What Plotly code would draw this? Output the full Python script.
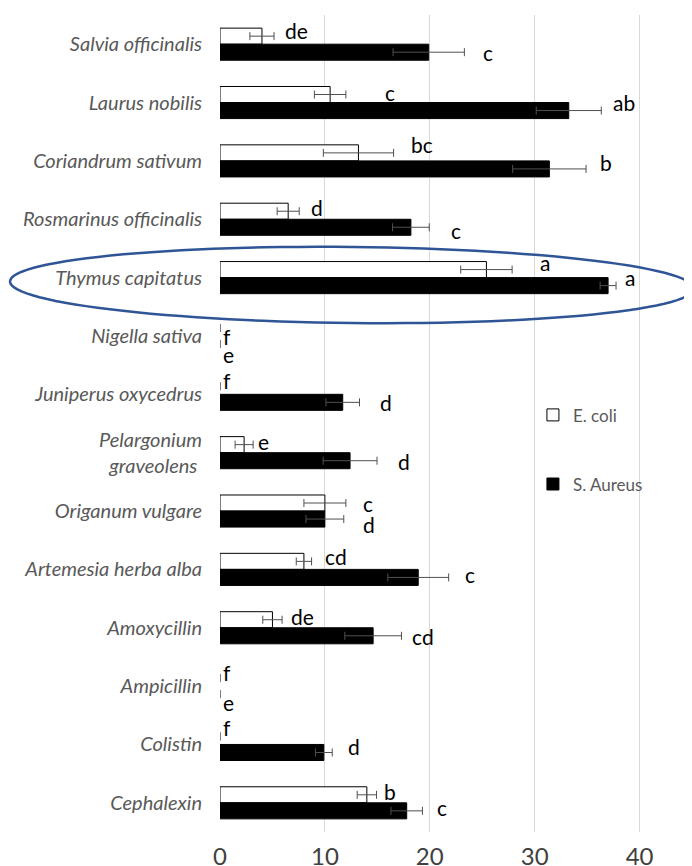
import math
import plotly.graph_objects as go

# inhibition zones (mm), top to bottom
categories = ["Salvia officinalis", "Laurus nobilis", "Coriandrum sativum",
              "Rosmarinus officinalis", "Thymus capitatus", "Nigella sativa",
              "Juniperus oxycedrus", "Pelargonium<br>graveolens\u00a0", "Origanum vulgare",
              "Artemesia herba alba", "Amoxycillin", "Ampicillin", "Colistin", "Cephalexin"]

ecoli = [4.0, 10.5, 13.2, 6.5, 25.4, 0, 0, 2.3, 10.0, 8.0, 5.0, 0, 0, 14.0]
ecoli_err = [1.15, 1.5, 3.35, 1.05, 2.45, 0, 0, 0.86, 2.0, 0.73, 0.92, 0, 0, 0.92]
saureus = [19.9, 33.25, 31.4, 18.2, 37.0, 0, 11.7, 12.4, 10.0, 18.9, 14.6, 0, 9.9, 17.8]
saureus_err = [3.4, 3.1, 3.5, 1.75, 0.76, 0, 1.6, 2.57, 1.8, 2.9, 2.7, 0, 0.8, 1.5]

ecoli_sig = ["de", "c", "bc", "d", "a", "f", "f", "e", "c", "cd", "de", "f", "f", "b"]
saureus_sig = ["c", "ab", "b", "c", "a", "e", "d", "d", "d", "c", "cd", "e", "d", "c"]

# where the letters were dragged to (x in mm, vertical shift in px)
ecoli_sig_x = [6.0, 15.5, 18.0, 8.5, 30.3, 0.05, 0.05, 3.4, 13.4, 9.8, 6.6, 0.05, 0.05, 15.4]
ecoli_sig_dy = [14, 10, 16, 12, 15, -1, 14, 11, 8, 13, 11, 14, 17, 11]
saureus_sig_x = [24.9, 37.3, 36.0, 21.8, 38.4, 0.05, 15.1, 16.8, 13.4, 23.2, 18.1, 0.05, 12.0, 20.5]
saureus_sig_dy = [-8, 0, -2, -11, 0, -19, -8, -9, -13, -5, -9, -16, -2, -5]

fig = go.Figure()
fig.add_trace(go.Bar(
    y=categories, x=ecoli, orientation="h", name="E. coli", legendgroup="ec",
    marker=dict(color="white", line=dict(color="black",
                                         width=[1 if v else 0 for v in ecoli])),
    error_x=dict(type="data", array=ecoli_err, color="#505050", thickness=1, width=4),
))
fig.add_trace(go.Bar(
    y=categories, x=saureus, orientation="h", name="S. Aureus", legendgroup="sa",
    marker=dict(color="black", line=dict(color="black",
                                         width=[1 if v else 0 for v in saureus])),
    error_x=dict(type="data", array=saureus_err, color="#505050", thickness=1, width=4),
))

for i, c in enumerate(categories):
    fig.add_annotation(x=ecoli_sig_x[i], y=c, text=ecoli_sig[i], showarrow=False,
                       xanchor="left", yshift=ecoli_sig_dy[i],
                       font=dict(family="Lato", size=21, color="black"))
    fig.add_annotation(x=saureus_sig_x[i], y=c, text=saureus_sig[i], showarrow=False,
                       xanchor="left", yshift=saureus_sig_dy[i],
                       font=dict(family="Lato", size=21, color="black"))

# blue ellipse around Thymus capitatus (page pixel geometry -> paper coords)
L, R, T, B = 220, 692, 15, 832
cx, cy, a, b, tilt = 352, 285, 342, 38, math.radians(0.6)
pts = []
for k in range(121):
    t = 2 * math.pi * k / 120
    px = cx + a * math.cos(t) * math.cos(tilt) - b * math.sin(t) * math.sin(tilt)
    py = cy + a * math.cos(t) * math.sin(tilt) + b * math.sin(t) * math.cos(tilt)
    pts.append(f"{(px - L) / (R - L):.5f},{(B - py) / (B - T):.5f}")
fig.add_shape(type="path", xref="paper", yref="paper",
              path="M" + " L".join(pts) + " Z",
              line=dict(color="#2F5597", width=2.5))

# the page body has an 8px margin, so the figure sits 8px right/down
fig.update_layout(
    width=692, height=866, template="none",
    margin=dict(l=212, r=8, t=7, b=42),
    paper_bgcolor="white", plot_bgcolor="white",
    barmode="group", bargap=0.45, bargroupgap=0,
    legend=dict(x=0.663, y=0.532, xanchor="left", yanchor="top",
                traceorder="grouped", tracegroupgap=44,
                font=dict(family="Lato", size=17, color="#595959"),
                bgcolor="rgba(0,0,0,0)"),
)
fig.update_xaxes(range=[0, 45], tickvals=[0, 10, 20, 30, 40], showgrid=True,
                 gridcolor="#d9d9d9", gridwidth=1, zeroline=False, showline=False,
                 ticks="", automargin=False, ticklabelstandoff=8,
                 tickfont=dict(family="Lato", size=24, color="#404040"))
fig.update_yaxes(autorange="reversed", showgrid=False, zeroline=False, showline=False,
                 ticks="", automargin=False, ticklabelstandoff=17,
                 tickfont=dict(family="Lato", size=20, color="#595959", style="italic"))

fig.write_html("out.html")
